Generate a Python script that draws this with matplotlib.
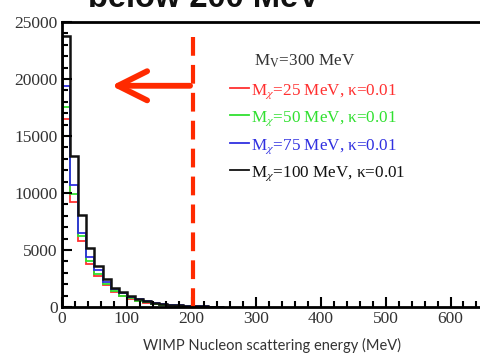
import numpy as np
import matplotlib
matplotlib.use("Agg")
import matplotlib.pyplot as plt
from matplotlib.ticker import MultipleLocator

plt.rcParams['mathtext.fontset'] = 'stix'

# recoil energy histogram, 12.5 MeV bins
bin_width = 12.5
red = [16500, 9200, 5800, 3800, 2700, 1900, 1300, 950, 700, 520, 380, 280, 200, 140, 100, 70, 50, 30, 20, 10]
green = [17500, 9900, 6200, 4000, 2850, 2000, 1400, 1000, 740, 550, 400, 290, 210, 150, 105, 75, 50, 35, 20, 10]
blue = [19400, 10700, 6500, 4400, 3250, 2200, 1600, 1200, 900, 680, 500, 360, 260, 180, 130, 90, 60, 40, 25, 15]
black = [23800, 13250, 8070, 5200, 3550, 2450, 1700, 1300, 960, 720, 520, 380, 270, 190, 135, 95, 65, 45, 30, 20]
labels = [r'M$_\chi$=25 MeV, κ=0.01', r'M$_\chi$=50 MeV, κ=0.01',
          r'M$_\chi$=75 MeV, κ=0.01', r'M$_\chi$=100 MeV, κ=0.01']
colors = ['#ff3030', '#30e030', '#3030e0', '#111111']
cut = 202

fig = plt.figure(figsize=(4.81, 3.54), dpi=100)
ax = fig.add_axes([0.129, 0.133, 0.875, 0.805])

edges = np.arange(len(black) + 1) * bin_width
for vals, c, lw in zip([red, green, blue, black], colors, [1.3, 1.3, 1.3, 1.8]):
    ax.stairs(vals, edges, color=c, lw=lw)

ax.set_xlim(0, 650)
ax.set_ylim(0, 25000)
ax.xaxis.set_major_locator(MultipleLocator(100))
ax.xaxis.set_minor_locator(MultipleLocator(20))
ax.yaxis.set_major_locator(MultipleLocator(5000))
ax.yaxis.set_minor_locator(MultipleLocator(1000))
ax.tick_params(which='both', direction='in', top=False, right=False, width=1.5)
ax.tick_params(which='major', length=7, pad=3)
ax.tick_params(which='minor', length=4)
for lab in ax.get_xticklabels() + ax.get_yticklabels():
    lab.set_fontfamily('Liberation Serif')
    lab.set_fontsize(12.5)
    lab.set_color('#333333')
for sp in ax.spines.values():
    sp.set_linewidth(2)
ax.set_xlabel('WIMP Nucleon scattering energy (MeV)', fontfamily='Lato',
              fontsize=10.5, color='#333333', labelpad=8)

# cut line and arrow
ax.axvline(cut, ymin=0, ymax=0.95, color='#ff2a00', lw=3, dashes=(4.5, 2.2))
ax.annotate('', xy=(72, 19400), xytext=(cut, 19400),
            arrowprops=dict(arrowstyle='->,head_length=2.1,head_width=1.05',
                            color='#ff2a00', lw=4.2, capstyle='round'))

# legend text
ax.text(0.455, 0.847, r'M$_\mathrm{V}$=300 MeV', transform=ax.transAxes,
        fontfamily='Liberation Serif', fontsize=12.3, color='#333333')
ys = [0.745, 0.65, 0.552, 0.457]
for lab, c, y in zip(labels, colors, ys):
    ax.plot([0.398, 0.445], [y + 0.022, y + 0.022], transform=ax.transAxes, color=c, lw=1.3)
    ax.text(0.45, y, lab, transform=ax.transAxes,
            fontfamily='Liberation Serif', fontsize=12.3, color=c)

fig.text(0.183, 0.98, 'below 200 MeV', fontfamily='Liberation Sans',
         fontweight='bold', fontsize=23.5, color='#111111', va='baseline')

fig.savefig('out.png', dpi=100)
